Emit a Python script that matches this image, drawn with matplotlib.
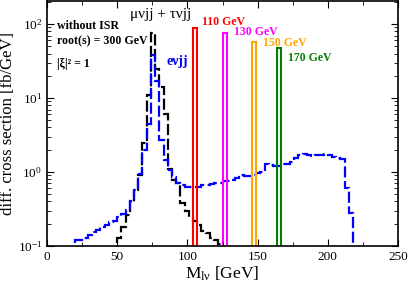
import matplotlib
matplotlib.use("Agg")
import matplotlib.pyplot as plt
import numpy as np

# histogram values (3 GeV bins)
e_start = 20.0
e_vals = [0.12, 0.12, 0.13, 0.14, 0.155, 0.165, 0.18, 0.19, 0.21, 0.22,
          0.25, 0.27, 0.31, 0.40, 0.58, 0.95, 2.0, 4.5, 38, 17,
          2.7, 1.45, 1.05, 0.85, 0.72, 0.66, 0.63, 0.62, 0.62, 0.63,
          0.66, 0.66, 0.68, 0.70, 0.72, 0.75, 0.76, 0.78, 0.82, 0.90,
          0.88, 0.88, 0.92, 0.97, 1.0, 1.3, 1.25, 1.2, 1.22, 1.28,
          1.3, 1.35, 1.55, 1.7, 1.75, 1.7, 1.65, 1.68, 1.72, 1.75,
          1.68, 1.58, 1.55, 1.5, 0.6, 0.28, 0.05]
mu_start = 50.0
mu_vals = [0.13, 0.18, 0.26, 0.39, 0.57, 0.91, 2.5, 11, 76, 25,
           14, 6, 1.1, 0.78, 0.72, 0.38, 0.30, 0.25, 0.22, 0.19,
           0.16, 0.15, 0.13, 0.12, 0.105, 0.095]
bin_w = 3.0

# Higgs signal bins
h_left = [104, 125, 146, 164]
h_height = [88, 76, 57, 48]
h_colors = ["#ff0000", "#ff00ff", "#ffa500", "#008000"]
h_labels = ["110 GeV", "130 GeV", "150 GeV", "170 GeV"]
h_label_pos = [(110.5, 107), (133, 77), (154, 55), (171.5, 35)]

plt.rcParams["font.family"] = ["Liberation Serif", "DejaVu Serif"]
plt.rcParams["mathtext.fontset"] = "custom"
plt.rcParams["mathtext.rm"] = "Liberation Serif"
plt.rcParams["mathtext.it"] = "Liberation Serif:italic"
plt.rcParams["mathtext.bf"] = "Liberation Serif:bold"

fig = plt.figure(figsize=(4.09, 2.86), dpi=100)
ax = fig.add_axes([47 / 409, 40 / 286, 351 / 409, 245 / 286])

e_edges = e_start + bin_w * np.arange(len(e_vals) + 1)
mu_edges = mu_start + bin_w * np.arange(len(mu_vals) + 1)

ax.stairs(mu_vals, mu_edges, baseline=1e-3, color="black", lw=1.6,
          linestyle=(0, (5, 1.6)))
ax.stairs(e_vals, e_edges, baseline=1e-3, color="#0000ff", lw=1.6,
          linestyle=(0, (5, 1.6)))

for l, h, c in zip(h_left, h_height, h_colors):
    ax.bar(l, h, width=bin_w, align="edge", bottom=1e-3, fill=False,
           edgecolor=c, lw=1.5)

for lab, (x, y), c in zip(h_labels, h_label_pos, h_colors):
    ax.text(x, y, lab, color=c, fontsize=8.5, fontweight="bold",
            ha="left", va="center")

ax.text(7, 95, "without ISR", fontsize=8.6, fontweight="bold", va="center")
ax.text(7, 58, "root(s) = 300 GeV", fontsize=8.6, fontweight="bold", va="center")
ax.text(7, 29, "|ξ|² = 1", fontsize=8.6, fontweight="bold", va="center")
ax.text(59, 135, "μνjj + τνjj", fontsize=11, va="center")
ax.text(85, 31, "eνjj", fontsize=10, fontweight="bold", color="#0000ff",
        va="center")

ax.set_yscale("log")
ax.set_xlim(0, 250)
ax.set_ylim(0.1, 205)
ax.set_xticks([0, 50, 100, 150, 200, 250])
ax.set_xticks(np.arange(25, 250, 50), minor=True)
ax.tick_params(which="both", direction="in", top=True, right=True,
               labelsize=9.5)
ax.tick_params(which="major", length=5)
ax.tick_params(which="minor", length=3)
for s in ax.spines.values():
    s.set_linewidth(1.2)

ax.set_xlabel("M$_{\\mathregular{lν}}$ [GeV]", fontsize=12.5, labelpad=1)
ax.set_ylabel("diff. cross section [fb/GeV]", fontsize=12, labelpad=1)

fig.savefig("out.png", dpi=100)
